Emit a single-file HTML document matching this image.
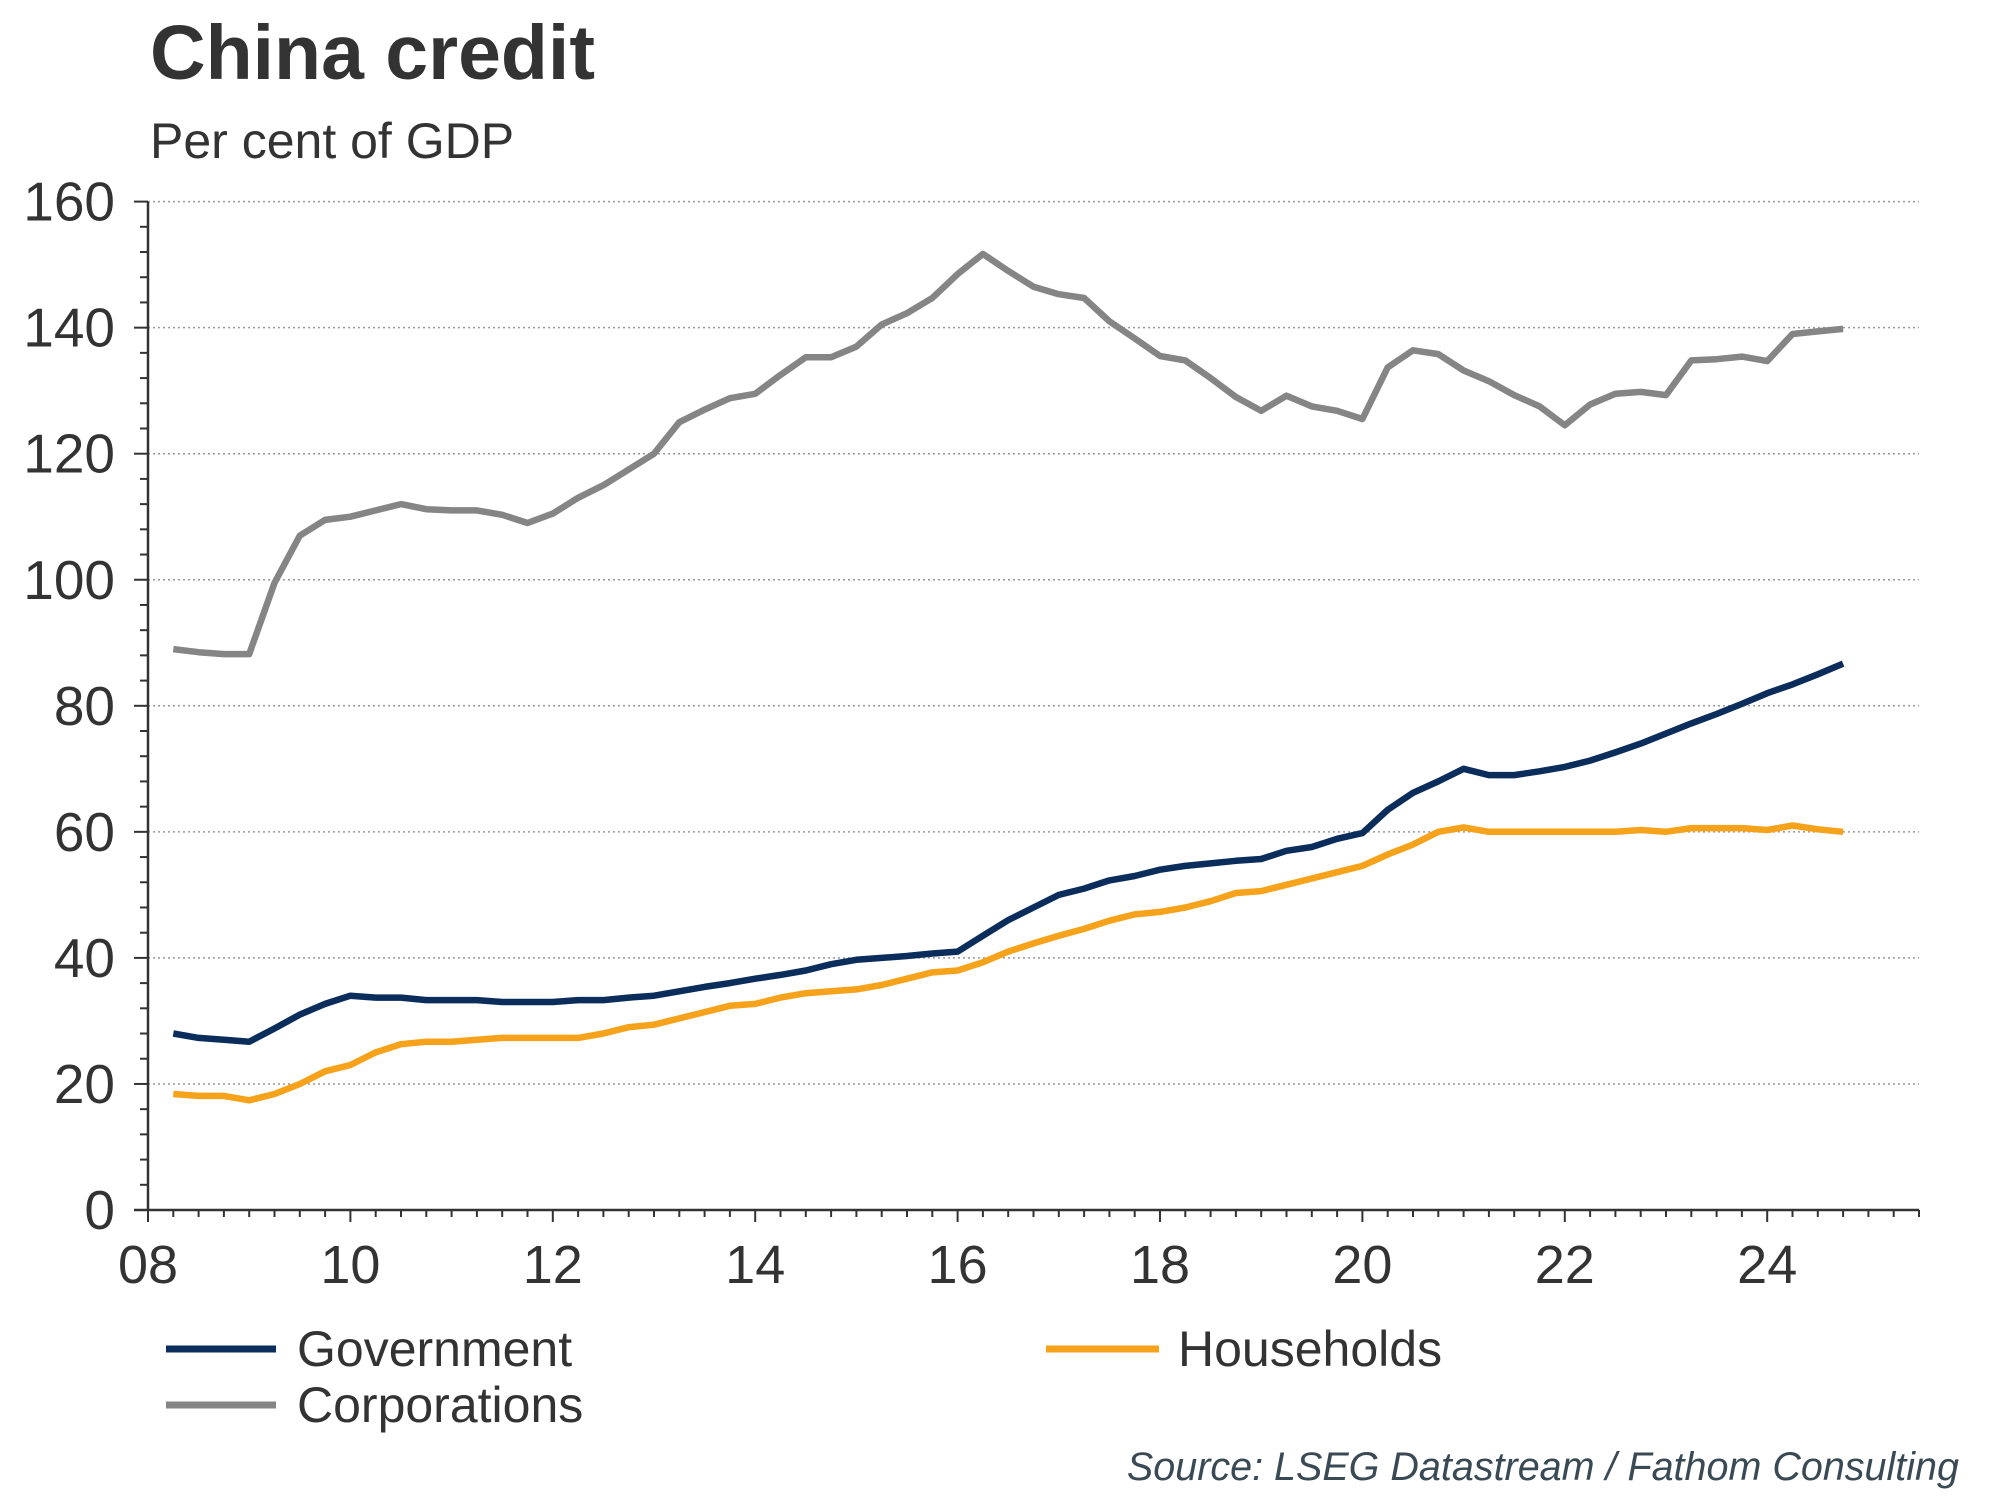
<!DOCTYPE html>
<html><head><meta charset="utf-8"><style>
body{margin:0;background:#fff}
svg{display:block;font-family:"Liberation Sans",Arial,sans-serif}
</style></head><body>
<svg id="chart" width="2000" height="1500" viewBox="0 0 2000 1500" xmlns="http://www.w3.org/2000/svg">
<text x="150" y="79" font-size="77" font-weight="bold" fill="#333">China credit</text>
<text x="150" y="158" font-size="50" fill="#333">Per cent of GDP</text>
<g id="grid"></g>
<g id="axes"></g>
<g id="series"></g>
<g font-size="50" fill="#333">
<line x1="166" y1="1349" x2="276" y2="1349" stroke="#0b2d5b" stroke-width="7"/>
<text x="297" y="1366">Government</text>
<line x1="1046" y1="1349" x2="1159" y2="1349" stroke="#f7a21b" stroke-width="7"/>
<text x="1178" y="1366">Households</text>
<line x1="166" y1="1405" x2="276" y2="1405" stroke="#858585" stroke-width="7"/>
<text x="297" y="1422">Corporations</text>
</g>
<text x="1959" y="1480" text-anchor="end" font-size="39.5" font-style="italic" fill="#3a4a55">Source: LSEG Datastream / Fathom Consulting</text>
</svg>
<script>
const yTicks=[0,20,40,60,80,100,120,140,160];
const xTickYears=[8,10,12,14,16,18,20,22,24];
const xTickLabels=["08","10","12","14","16","18","20","22","24"];
const startYear=8.25;
const corporations=[89,88.5,88.2,88.2,99.5,107,109.5,110,111,112,111.2,111,111,110.3,109,110.5,113,115,117.5,120,125,127,128.8,129.5,132.5,135.3,135.3,137,140.5,142.3,144.7,148.5,151.7,149,146.5,145.3,144.7,141,138.3,135.5,134.8,132,129,126.8,129.2,127.5,126.8,125.5,133.7,136.4,135.8,133.2,131.5,129.3,127.5,124.5,127.8,129.5,129.8,129.3,134.8,135,135.4,134.7,139,139.4,139.8];
const government=[28,27.3,27,26.7,28.8,31,32.7,34,33.7,33.7,33.3,33.3,33.3,33,33,33,33.3,33.3,33.7,34,34.7,35.4,36,36.7,37.3,38,39,39.7,40,40.3,40.7,41,43.5,46,48,50,51,52.3,53,54,54.6,55,55.4,55.7,57,57.6,58.9,59.8,63.5,66.2,68,70,69,69,69.6,70.3,71.3,72.6,74,75.6,77.2,78.7,80.3,82,83.4,85,86.7];
const households=[18.4,18.1,18.1,17.4,18.4,20,22,23,25,26.3,26.7,26.7,27,27.3,27.3,27.3,27.3,28,29,29.4,30.4,31.4,32.4,32.7,33.7,34.4,34.7,35,35.7,36.7,37.7,38,39.3,41,42.3,43.5,44.6,45.9,46.9,47.3,48,49,50.3,50.6,51.6,52.6,53.6,54.6,56.4,58,60,60.7,60,60,60,60,60,60,60.3,60,60.6,60.6,60.6,60.3,61,60.4,60];

const NS="http://www.w3.org/2000/svg";
const X0=148,PX_YEAR=101.2,XEND=1919,Y0=1210,PX_UNIT=(1210-201.6)/160;
function xs(t){return X0+(t-8)*PX_YEAR;}
function ys(v){return Y0-v*PX_UNIT;}
function mk(tag,attrs,parent){const e=document.createElementNS(NS,tag);for(const k in attrs)e.setAttribute(k,attrs[k]);parent.appendChild(e);return e;}
const grid=document.getElementById('grid'),axes=document.getElementById('axes'),ser=document.getElementById('series');
yTicks.forEach(v=>{
  if(v>0){const g=mk('line',{x1:X0,x2:XEND,y1:ys(v),y2:ys(v),stroke:'#999','stroke-width':1.5,'stroke-dasharray':'2 3'},grid);
  
  }
  const t=mk('text',{x:115,y:ys(v)+19,'text-anchor':'end','font-size':55,fill:'#333'},axes);t.textContent=v;
  
  
});
for(let v=0;v<=160;v+=4){const major=v%20===0;mk('line',{x1:X0-(major?14:8),x2:X0,y1:ys(v),y2:ys(v),stroke:'#333','stroke-width':2},axes);}
for(let q=0;q<=70;q++){const t=8+q*0.25;if(xs(t)>XEND)break;const major=q%8===0;mk('line',{x1:xs(t),x2:xs(t),y1:Y0,y2:Y0+(major?12:7),stroke:'#333','stroke-width':2},axes);}
xTickYears.forEach((yr,i)=>{const t=mk('text',{x:xs(yr),y:1283,'text-anchor':'middle','font-size':54,fill:'#333'},axes);t.textContent=xTickLabels[i];
  
  });
const ya=mk('line',{x1:X0,x2:X0,y1:ys(160),y2:Y0,stroke:'#333','stroke-width':2.5},axes);


const xa=mk('line',{x1:X0-14,x2:XEND,y1:Y0,y2:Y0,stroke:'#333','stroke-width':2.5},axes);


function draw(arr,color,name){
  const pts=arr.map((v,i)=>xs(startYear+i*0.25).toFixed(1)+','+ys(v).toFixed(1)).join(' ');
  const p=mk('polyline',{points:pts,fill:'none',stroke:color,'stroke-width':6.5,'stroke-linejoin':'round'},ser);
  
  
}
draw(corporations,'#858585','line-corporations');
draw(households,'#f7a21b','line-households');
draw(government,'#0b2d5b','line-government');
</script>
</body></html>
